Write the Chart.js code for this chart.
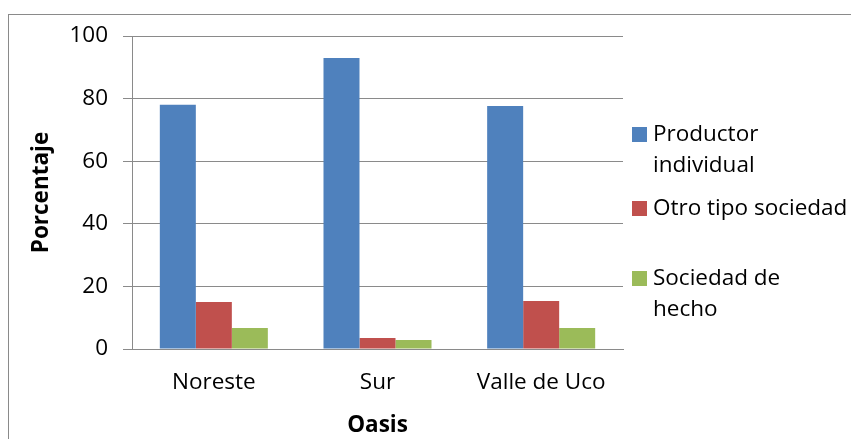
<!DOCTYPE html>
<html><head><meta charset="utf-8">
<script src="https://cdn.jsdelivr.net/npm/chart.js@4/dist/chart.umd.min.js"></script>
<style>html,body{margin:0;padding:0;background:#fff;}#wrap{width:851px;height:439px;position:relative;}</style>
</head><body><div id="wrap"><canvas id="c" width="851" height="439"></canvas></div>
<script>
const categories = ["Noreste", "Sur", "Valle de Uco"];
const seriesNames = ["Productor individual", "Otro tipo sociedad", "Sociedad de hecho"];
const legendLines = [["Productor", "individual"], ["Otro tipo sociedad"], ["Sociedad de", "hecho"]];
const productorIndividual = [78.0, 93.0, 77.6];
const otroTipoSociedad = [15.0, 3.5, 15.3];
const sociedadDeHecho = [6.7, 2.9, 6.7];
const yTicks = [0, 20, 40, 60, 80, 100];
const colors = ["#4F81BD", "#C0504D", "#9BBB59"];
const FONT = "'Open Sans', sans-serif";
const FS = 22.5;

const frame = {
  id: 'frame',
  beforeDraw(chart) {
    const ctx = chart.ctx;
    ctx.save();
    ctx.strokeStyle = '#8a8a8a';
    ctx.lineWidth = 1;
    ctx.strokeRect(8.5, 14.5, 1000, 600);
    ctx.restore();
  }
};
const legendPlugin = {
  id: 'customLegend',
  afterDraw(chart) {
    const ctx = chart.ctx;
    ctx.save();
    const ys = [134, 208, 278];
    ctx.font = FS + "px " + FONT;
    ctx.textBaseline = 'middle';
    chart.data.datasets.forEach((ds, i) => {
      ctx.fillStyle = ds.backgroundColor;
      ctx.fillRect(632, ys[i] - 7, 15, 15);
      ctx.fillStyle = '#000';
      legendLines[i].forEach((t, j) => ctx.fillText(t, 653, ys[i] + 1 + j * 31));
    });
    ctx.restore();
  }
};

new Chart(document.getElementById('c'), {
  type: 'bar',
  data: {
    labels: categories,
    datasets: [
      {label: seriesNames[0], data: productorIndividual, backgroundColor: colors[0]},
      {label: seriesNames[1], data: otroTipoSociedad, backgroundColor: colors[1]},
      {label: seriesNames[2], data: sociedadDeHecho, backgroundColor: colors[2]}
    ]
  },
  options: {
    responsive: false,
    animation: false,
    layout: {padding: {left: 28, top: 36, right: 228, bottom: 0}},
    datasets: {bar: {barPercentage: 1, categoryPercentage: 0.66}},
    plugins: {legend: {display: false}, tooltip: {enabled: false}},
    scales: {
      x: {
        grid: {display: false, drawTicks: false},
        border: {display: true, color: '#8a8a8a', width: 1},
        ticks: {color: '#000', font: {family: FONT, size: FS}, padding: 20},
        title: {display: true, text: 'Oasis', color: '#000', font: {family: FONT, size: FS, weight: 'bold'}, padding: {top: 2, bottom: 0}},
        afterFit(s) { s.height = 90; }
      },
      y: {
        min: 0, max: 100,
        afterBuildTicks(s) { s.ticks = yTicks.map(v => ({value: v})); },
        grid: {color: '#8a8a8a', lineWidth: 1, tickLength: 9, drawTicks: true},
        border: {display: true, color: '#8a8a8a', width: 1},
        ticks: {color: '#000', font: {family: FONT, size: FS}, padding: 15},
        title: {display: true, text: 'Porcentaje', color: '#000', font: {family: FONT, size: FS, weight: 'bold'}, padding: {top: 0, bottom: 0}},
        afterFit(s) { s.width = 104; }
      }
    }
  },
  plugins: [frame, legendPlugin]
});
</script></body></html>
